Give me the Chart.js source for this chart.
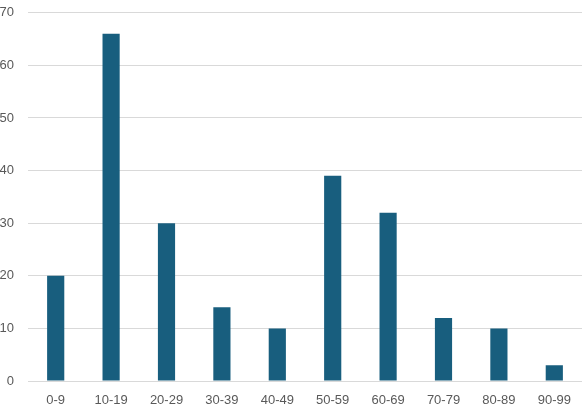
<!DOCTYPE html>
<html>
<head>
<meta charset="utf-8">
<script src="https://cdn.jsdelivr.net/npm/chart.js@4"></script>
<style>
  html, body { margin: 0; padding: 0; background: #fff; }
  #wrap { width: 582px; height: 406px; overflow: hidden; position: relative; }
  #myChart { position: absolute; left: 0; top: -9px; }
</style>
</head>
<body>
<div id="wrap"><canvas id="myChart" width="582" height="415"></canvas></div>
<script>
const categories = ['0-9', '10-19', '20-29', '30-39', '40-49', '50-59', '60-69', '70-79', '80-89', '90-99'];
const counts = [20, 66, 30, 14, 10, 39, 32, 12, 10, 3];
const yTicks = [0, 10, 20, 30, 40, 50, 60, 70];

const ctx = document.getElementById('myChart').getContext('2d');
const chart = new Chart(ctx, {
  type: 'bar',
  data: {
    labels: categories,
    datasets: [{ label: 'Count', data: counts, backgroundColor: '#185e7e', barPercentage: 0.31, categoryPercentage: 1 }]
  },
  options: {
    responsive: false,
    animation: false,
    layout: { padding: 0 },
    plugins: { legend: { display: false }, tooltip: { enabled: false } },
    scales: {
      x: {
        grid: { display: false },
        border: { display: false },
        ticks: { color: '#595959', font: { family: 'Liberation Sans', size: 13 }, padding: 4, maxRotation: 0 },
        afterFit: (s) => { s.height = 25; }
      },
      y: {
        min: yTicks[0],
        max: yTicks[yTicks.length - 1],
        afterBuildTicks: (s) => { s.ticks = yTicks.map(v => ({ value: v })); },
        grid: { color: '#d9d9d9', drawTicks: false },
        border: { display: false },
        ticks: { color: '#595959', font: { family: 'Liberation Sans', size: 13 }, padding: 14 },
        afterFit: (s) => { s.width = 28; }
      }
    }
  }
});
</script>
</body>
</html>
